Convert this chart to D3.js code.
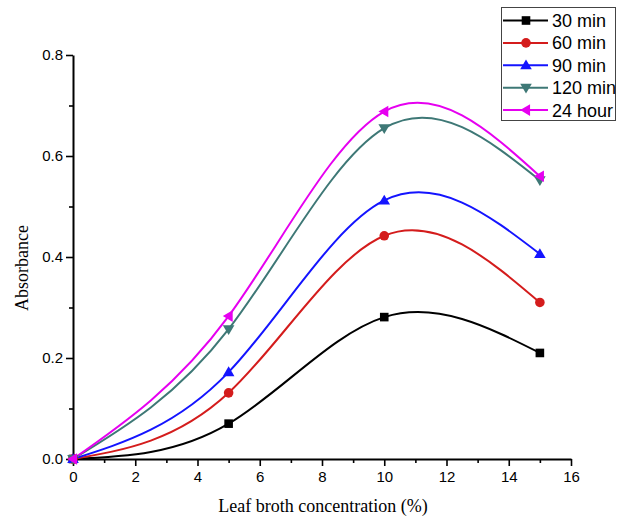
<!DOCTYPE html>
<html><head><meta charset="utf-8">
<script src="https://cdn.jsdelivr.net/npm/d3@7"></script>
<style>body{margin:0;background:#fff}svg{display:block}</style>
</head><body>
<svg id="c" width="619" height="519"></svg>
<script>
const concentration = [0, 5, 10, 15];
const seriesNames = ["30 min", "60 min", "90 min", "120 min", "24 hour"];
const v30 = [0, 0.070, 0.281, 0.210];
const v60 = [0, 0.131, 0.442, 0.310];
const v90 = [0, 0.172, 0.512, 0.406];
const v120 = [0, 0.257, 0.655, 0.552];
const v24h = [0, 0.283, 0.688, 0.560];
const xTicks = [0, 2, 4, 6, 8, 10, 12, 14, 16];
const yTicks = [0.0, 0.2, 0.4, 0.6, 0.8];

const colors = ["#000000", "#d41c1c", "#1414ff", "#3e7876", "#e600f0"];
const symbols = ["square", "circle", "up", "down", "left"];
const allValues = [v30, v60, v90, v120, v24h];

const svg = d3.select("#c");
const x = d3.scaleLinear().domain([0, 16]).range([73, 571]);
const y = d3.scaleLinear().domain([0, 0.8]).range([459, 55]);

// axes
const xAxis = d3.axisBottom(x).tickValues(xTicks).tickFormat(d3.format("d")).tickSize(7).tickPadding(5);
const xMinor = d3.axisBottom(x).tickValues(d3.range(1, 16, 2)).tickFormat("").tickSize(4);
const yAxis = d3.axisLeft(y).tickValues(yTicks).tickFormat(d3.format(".1f")).tickSize(7).tickPadding(3);
const yMinor = d3.axisLeft(y).tickValues([0.1, 0.3, 0.5, 0.7]).tickFormat("").tickSize(4);

function style(g) {
  g.selectAll("path.domain").attr("stroke", "#000").attr("stroke-width", 2);
  g.selectAll(".tick line").attr("stroke", "#000").attr("stroke-width", 1.6);
  g.selectAll(".tick text").attr("font-family", "Liberation Sans, Arial, sans-serif").attr("font-size", 15).attr("fill", "#000");
}
svg.append("g").attr("transform", "translate(0,459)").call(xMinor).call(style).select("path.domain").remove();
svg.append("g").attr("transform", "translate(73,0)").call(yMinor).call(style).select("path.domain").remove();
svg.append("g").attr("transform", "translate(0,459)").call(xAxis.tickSizeOuter(0)).call(style);
svg.append("g").attr("transform", "translate(73,0)").call(yAxis.tickSizeOuter(0)).call(style);

// titles
svg.append("text").attr("x", 323).attr("y", 512).attr("text-anchor", "middle")
  .attr("font-family", "Liberation Serif, Times New Roman, serif").attr("font-size", 18)
  .text("Leaf broth concentration (%)");
svg.append("text").attr("transform", "translate(28,268) rotate(-90)").attr("text-anchor", "middle")
  .attr("font-family", "Liberation Serif, Times New Roman, serif").attr("font-size", 18)
  .text("Absorbance");

function marker(g, type, cx, cy, color) {
  const s = 4.3;
  if (type === "square") g.append("rect").attr("x", cx - s).attr("y", cy - s).attr("width", 2 * s).attr("height", 2 * s).attr("fill", color);
  else if (type === "circle") g.append("circle").attr("cx", cx).attr("cy", cy).attr("r", 4.8).attr("fill", color);
  else {
    const r = 5.8;
    let pts;
    if (type === "up") pts = [[cx, cy - r], [cx + r, cy + r * 0.7], [cx - r, cy + r * 0.7]];
    else if (type === "down") pts = [[cx, cy + r], [cx + r, cy - r * 0.7], [cx - r, cy - r * 0.7]];
    else pts = [[cx - r, cy], [cx + r * 0.7, cy - r], [cx + r * 0.7, cy + r]];
    g.append("polygon").attr("points", pts.map(p => p.join(",")).join(" ")).attr("fill", color);
  }
}

const line = d3.line().x((d, i) => x(concentration[i])).y(d => y(d)).curve(d3.curveNatural);
const plot = svg.append("g");
allValues.forEach((vals, k) => {
  plot.append("path").datum(vals).attr("d", line).attr("fill", "none")
    .attr("stroke", colors[k]).attr("stroke-width", 2);
});
allValues.forEach((vals, k) => {
  vals.forEach((v, i) => marker(plot, symbols[k], x(concentration[i]), y(v), colors[k]));
});

// legend
const lg = svg.append("g");
lg.append("rect").attr("x", 501.5).attr("y", 7.5).attr("width", 114).attr("height", 113)
  .attr("fill", "#fff").attr("stroke", "#444").attr("stroke-width", 1);
seriesNames.forEach((name, k) => {
  const cy = 20.5 + k * 22.4;
  lg.append("line").attr("x1", 503).attr("x2", 548).attr("y1", cy).attr("y2", cy)
    .attr("stroke", colors[k]).attr("stroke-width", 2);
  marker(lg, symbols[k], 526, cy, colors[k]);
  lg.append("text").attr("x", 552).attr("y", cy + 6.5)
    .attr("font-family", "Liberation Sans, Arial, sans-serif").attr("font-size", 18).text(name);
});
</script>
</body></html>
